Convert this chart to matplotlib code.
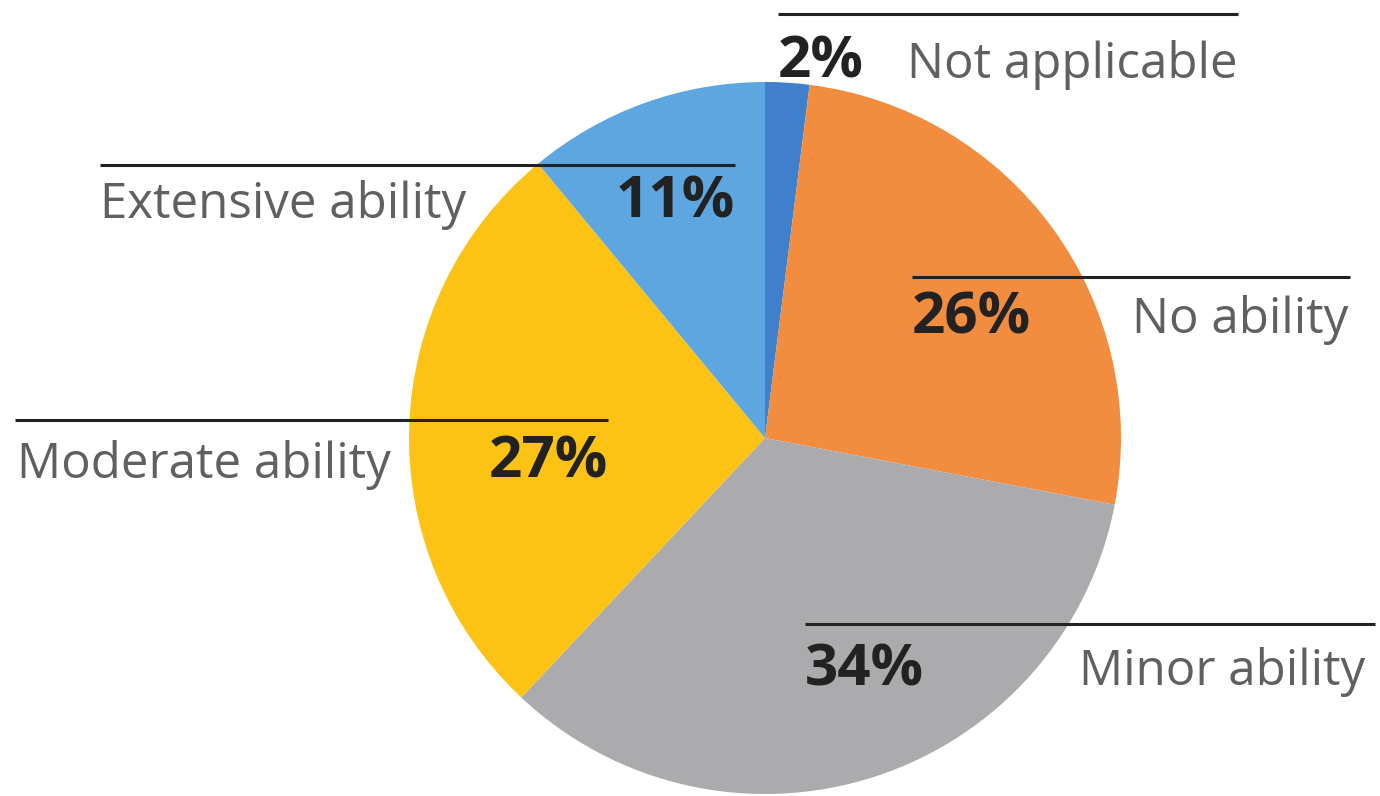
import matplotlib.pyplot as plt

labels = ["Not applicable", "No ability", "Minor ability", "Moderate ability", "Extensive ability"]
values = [2, 26, 34, 27, 11]
colors = ["#3f7fcc", "#f28c3e", "#ababad", "#fcc214", "#5ea6e0"]

W, H = 1380, 796
fig = plt.figure(figsize=(W / 100, H / 100), dpi=100)
ax = fig.add_axes([0, 0, 1, 1])

# pie centre / radius in pixel coords (y flipped)
cx, cy, r = 765, H - 438, 356
ax.pie(values, colors=colors, startangle=90, counterclock=False,
       center=(cx, cy), radius=r, wedgeprops=dict(linewidth=0))

ax.set_xlim(0, W)
ax.set_ylim(0, H)
ax.axis("off")

def Y(y):
    return H - y

# label rows: (line x0, line x1, line y, baseline y, name inset, pct on left?)
rows = {
    "Not applicable": (778, 1238, 14, 78, 0, True),
    "No ability": (912, 1350, 277, 333, 2, True),
    "Minor ability": (805, 1375, 624, 685, 10, True),
    "Moderate ability": (15, 608, 420, 478, 2, False),
    "Extensive ability": (100, 735, 165, 218, 0, False),
}

name_kw = dict(fontsize=35.5, color="#606060", family="Open Sans", weight="normal", va="baseline")
pct_kw = dict(fontsize=42, color="#222222", family="Open Sans", weight="bold", va="baseline")

for lab, val in zip(labels, values):
    x0, x1, ly, by, inset, pct_left = rows[lab]
    ax.plot([x0, x1], [Y(ly), Y(ly)], color="#222222", lw=2.2, solid_capstyle="butt")
    if pct_left:
        ax.text(x0, Y(by), f"{val}%", ha="left", **pct_kw)
        ax.text(x1 - inset, Y(by), lab, ha="right", **name_kw)
    else:
        ax.text(x0 + inset, Y(by), lab, ha="left", **name_kw)
        ax.text(x1, Y(by), f"{val}%", ha="right", **pct_kw)

fig.savefig("out.png", dpi=100)
